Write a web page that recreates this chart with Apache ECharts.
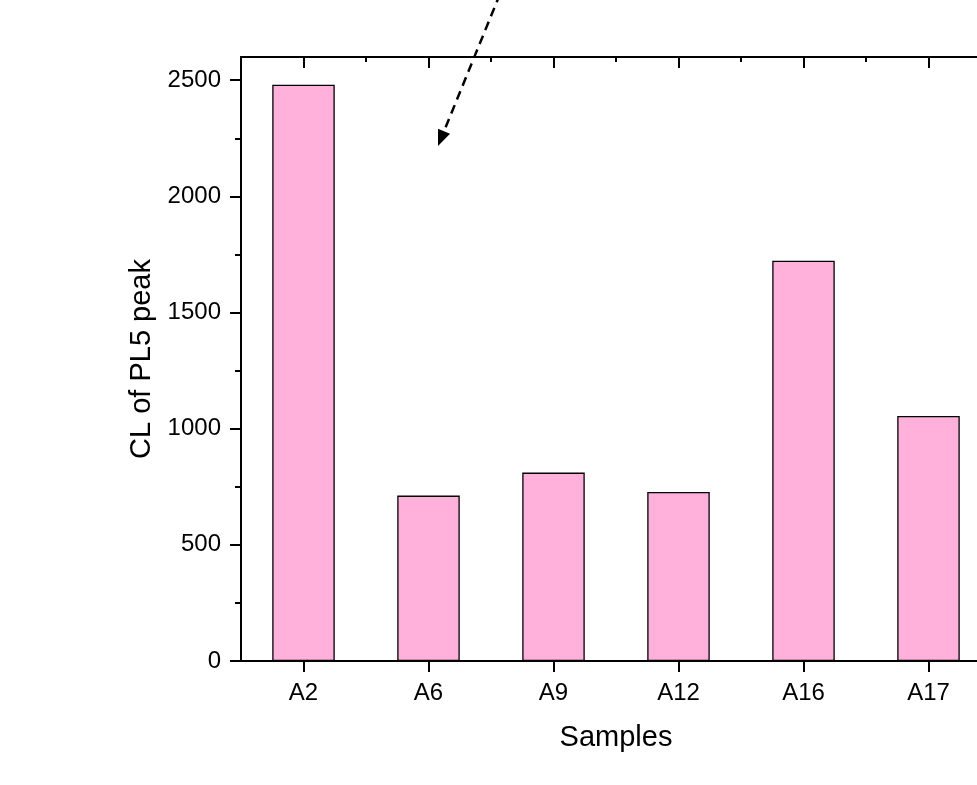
<!DOCTYPE html>
<html>
<head>
<meta charset="utf-8">
<script src="https://cdn.jsdelivr.net/npm/echarts@6/dist/echarts.min.js"></script>
<style>
html,body{margin:0;padding:0;background:#fff;}
#chart{width:977px;height:785px;}
</style>
</head>
<body>
<div id="chart"></div>
<script>
var categories = ['A2', 'A6', 'A9', 'A12', 'A16', 'A17'];
var values = [2481, 712, 811, 728, 1723, 1055];
var yMajorTicks = [0, 500, 1000, 1500, 2000, 2500];
var yMinorTicks = [250, 750, 1250, 1750, 2250];
var yMin = 0, yMax = 2600;

var FONT = 'Liberation Sans, Arial, sans-serif';
var chart = echarts.init(document.getElementById('chart'), null, {renderer: 'canvas'});

// arrow annotation (pixel geometry)
var tip = [438, 146], start = [500, -6];
var dx = tip[0] - start[0], dy = tip[1] - start[1];
var L = Math.sqrt(dx * dx + dy * dy), ux = dx / L, uy = dy / L;
var hl = 16, hw = 6.5;
var base = [tip[0] - hl * ux, tip[1] - hl * uy];
var px = -uy, py = ux;

var option = {
  animation: false,
  backgroundColor: '#ffffff',
  grid: {left: 241, top: 57, width: 750, height: 604, containLabel: false, outerBoundsMode: 'none'},
  xAxis: [
    {
      type: 'category', data: categories, position: 'bottom',
      name: 'Samples', nameLocation: 'middle', nameGap: 62,
      nameTextStyle: {fontFamily: FONT, fontSize: 29, color: '#000'},
      axisLine: {show: true, lineStyle: {color: '#000', width: 2}},
      axisTick: {show: true, alignWithLabel: true, inside: false, length: 11, lineStyle: {color: '#000', width: 2}},
      axisLabel: {fontFamily: FONT, fontSize: 24, color: '#000', margin: 20},
      splitLine: {show: false}
    },
    {
      type: 'value', position: 'top', min: 0, max: categories.length, interval: 1,
      axisLine: {show: true, onZero: false, lineStyle: {color: '#000', width: 2}},
      axisTick: {show: true, inside: true, length: 5, lineStyle: {color: '#000', width: 2}},
      minorTick: {show: true, splitNumber: 2, length: 11, lineStyle: {color: '#000', width: 2}},
      axisLabel: {show: false},
      splitLine: {show: false},
      minorSplitLine: {show: false}
    }
  ],
  yAxis: [
    {
      type: 'value', min: yMin, max: yMax, position: 'left',
      name: 'CL of PL5 peak', nameLocation: 'middle', nameGap: 84, nameRotate: 90,
      nameTextStyle: {fontFamily: FONT, fontSize: 29, color: '#000'},
      axisLine: {show: true, onZero: false, lineStyle: {color: '#000', width: 2}},
      axisTick: {show: true, inside: false, length: 11, customValues: yMajorTicks, lineStyle: {color: '#000', width: 2}},
      axisLabel: {fontFamily: FONT, fontSize: 24, color: '#000', margin: 20, customValues: yMajorTicks,
        formatter: function (v) { return String(v); }},
      splitLine: {show: false}
    },
    {
      type: 'value', min: yMin, max: yMax, position: 'left',
      axisLine: {show: false},
      axisTick: {show: true, inside: false, length: 6, customValues: yMinorTicks, lineStyle: {color: '#000', width: 2}},
      axisLabel: {show: false},
      splitLine: {show: false}
    }
  ],
  series: [{
    type: 'bar',
    xAxisIndex: 0, yAxisIndex: 0,
    data: values,
    barWidth: '50%',
    itemStyle: {color: '#FFB1DC', borderColor: '#000', borderWidth: 1.3},
    silent: true
  }],
  graphic: [
    {
      type: 'line', silent: true,
      shape: {x1: start[0], y1: start[1], x2: base[0], y2: base[1]},
      style: {stroke: '#000', lineWidth: 2.5, lineDash: [9, 6]}
    },
    {
      type: 'polygon', silent: true,
      shape: {points: [tip, [base[0] + px * hw, base[1] + py * hw], [base[0] - px * hw, base[1] - py * hw]]},
      style: {fill: '#000'}
    }
  ]
};
chart.setOption(option);
</script>
</body>
</html>
